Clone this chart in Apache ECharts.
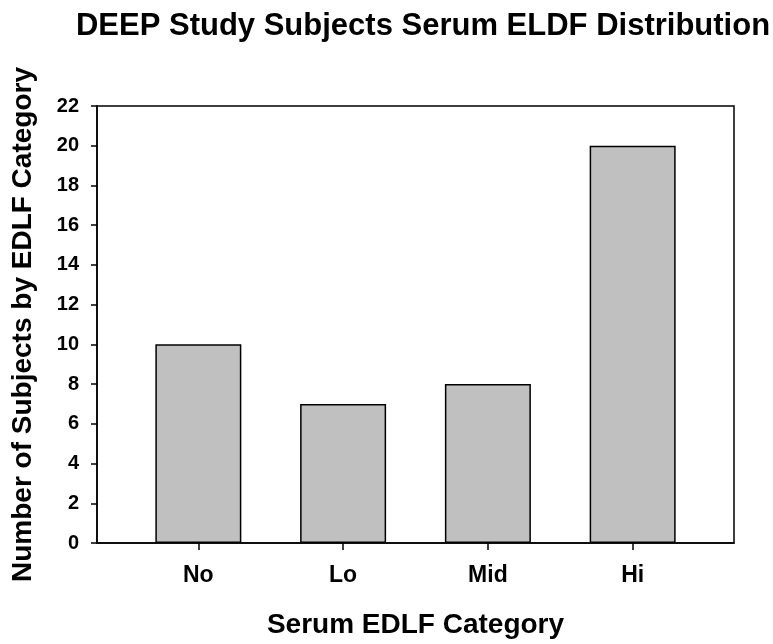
<!DOCTYPE html>
<html>
<head>
<meta charset="utf-8">
<script src="https://cdn.jsdelivr.net/npm/echarts@6/dist/echarts.min.js"></script>
<style>
html,body{margin:0;padding:0;background:#fff;}
#chart{width:773px;height:644px;}
</style>
</head>
<body>
<div id="chart"></div>
<script>
const categories = ['No', 'Lo', 'Mid', 'Hi'];
const counts = [10, 7, 8, 20];
const positions = [0, 1, 2, 3];

const chart = echarts.init(document.getElementById('chart'), null, {renderer: 'canvas'});
const font = 'Liberation Sans, Arial, sans-serif';
chart.setOption({
  animation: false,
  backgroundColor: '#fff',
  title: {
    text: 'DEEP Study Subjects Serum ELDF Distribution',
    left: 418, textAlign: 'center', top: 6,
    textStyle: {fontFamily: font, fontWeight: 'bold', fontSize: 31, color: '#000'}
  },
  grid: {left: 97, top: 106, right: 39, bottom: 94, show: true, borderColor: '#000', borderWidth: 1.5, backgroundColor: 'transparent'},
  xAxis: {
    type: 'value', min: -0.7, max: 3.7,
    axisLine: {show: true, onZero: false, lineStyle: {color: '#000', width: 1.5}},
    axisTick: {show: true, customValues: positions, length: 7, lineStyle: {color: '#000', width: 1.5}},
    axisLabel: {customValues: positions, formatter: v => categories[Math.round(v)], margin: 21,
      fontFamily: font, fontWeight: 'bold', fontSize: 23, color: '#000'},
    splitLine: {show: false},
    name: 'Serum EDLF Category', nameLocation: 'middle', nameGap: 68,
    nameTextStyle: {fontFamily: font, fontWeight: 'bold', fontSize: 28, color: '#000'}
  },
  yAxis: {
    type: 'value', min: 0, max: 22, interval: 2,
    axisLine: {show: true, onZero: false, lineStyle: {color: '#000', width: 1.5}},
    axisTick: {show: true, length: 6, lineStyle: {color: '#000', width: 1.5}},
    axisLabel: {margin: 18, fontFamily: font, fontWeight: 'bold', fontSize: 20, color: '#000'},
    splitLine: {show: false},
    name: 'Number of Subjects by EDLF Category', nameLocation: 'middle', nameGap: 60,
    nameTextStyle: {fontFamily: font, fontWeight: 'bold', fontSize: 28, color: '#000'}
  },
  series: [{
    type: 'bar',
    data: positions.map((p, i) => [p, counts[i]]),
    barWidth: 86,
    itemStyle: {color: '#c0c0c0', borderColor: '#000', borderWidth: 1.5}
  }]
});
</script>
</body>
</html>
